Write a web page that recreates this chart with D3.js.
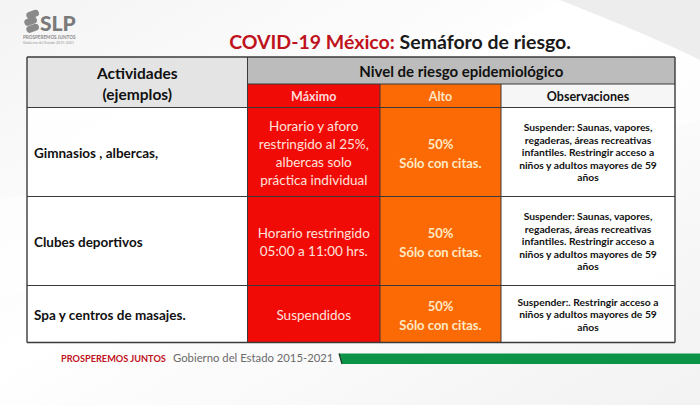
<!DOCTYPE html>
<html><head><meta charset="utf-8">
<script src="https://cdn.jsdelivr.net/npm/d3@7/dist/d3.min.js"></script>
<style>html,body{margin:0;padding:0;background:#fff;}svg{display:block;}</style>
</head><body>
<svg id="c" width="700" height="405"></svg>
<script>
// ---------- DATA ----------
const titleRed = "COVID-19 México:";
const titleDark = " Semáforo de riesgo.";
const headerActivities = ["Actividades", "(ejemplos)"];
const headerLevel = "Nivel de riesgo epidemiológico";
const levelColumns = ["Máximo", "Alto", "Observaciones"];
const activities = ["Gimnasios , albercas,", "Clubes deportivos", "Spa y centros de masajes."];
const maximo = [
  ["Horario y aforo", "restringido al 25%,", "albercas solo", "práctica individual"],
  ["Horario restringido", "05:00 a 11:00 hrs."],
  ["Suspendidos"]
];
const alto = [
  ["50%", "Sólo con citas."],
  ["50%", "Sólo con citas."],
  ["50%", "Sólo con citas."]
];
const observaciones = [
  ["Suspender: Saunas, vapores,", "regaderas, áreas recreativas", "infantiles. Restringir acceso a", "niños y adultos mayores de 59", "años"],
  ["Suspender: Saunas, vapores,", "regaderas, áreas recreativas", "infantiles. Restringir acceso a", "niños y adultos mayores de 59", "años"],
  ["Suspender:. Restringir acceso a", "niños y adultos mayores de 59", "años"]
];
const footerRed = "PROSPEREMOS JUNTOS";
const footerGray = "Gobierno del Estado 2015-2021";

// ---------- LAYOUT ----------
const svg = d3.select("#c");
const W = 700, H = 405;
const FONT = "Lato, 'Open Sans', sans-serif";

// background
const defs = svg.append("defs");
const bg = defs.append("linearGradient").attr("id","bg").attr("x1","0").attr("y1","0").attr("x2","1").attr("y2","1");
bg.append("stop").attr("offset","0").attr("stop-color","#f4f4f4");
bg.append("stop").attr("offset","0.45").attr("stop-color","#ffffff");
bg.append("stop").attr("offset","1").attr("stop-color","#f2f2f2");
svg.append("rect").attr("width",W).attr("height",H).attr("fill","url(#bg)");
svg.append("path").attr("d","M0,300 C120,250 300,230 700,120 L700,0 L560,0 C420,80 200,160 0,200 Z").attr("fill","#ffffff").attr("opacity",0.6);
svg.append("path").attr("d","M560,0 L700,0 L700,60 C660,40 610,20 560,0 Z").attr("fill","#e6e6e6").attr("opacity",0.7);

// logo
const logo = svg.append("g").attr("transform","translate(22,8)");
[[0,0],[-2,7],[0,14]].forEach((p,i)=>{
  logo.append("rect").attr("x",4+p[0]).attr("y",3+p[1]).attr("width",13).attr("height",7).attr("rx",3.5)
    .attr("fill","#8a8a8a").attr("transform",`rotate(-20 ${10+p[0]} ${6+p[1]})`);
});
logo.append("text").attr("x",18).attr("y",23).attr("font-family",FONT).attr("font-weight",900)
  .attr("font-size",21).attr("fill","#7a7a7a").text("SLP");
logo.append("text").attr("x",1).attr("y",31).attr("font-family",FONT).attr("font-weight",700)
  .attr("font-size",4.6).attr("fill","#8a8a8a").text("PROSPEREMOS JUNTOS");
logo.append("text").attr("x",1).attr("y",36).attr("font-family",FONT)
  .attr("font-size",3.6).attr("fill","#9a9a9a").text("Gobierno del Estado 2015-2021");

// title
const title = svg.append("text").attr("x",400).attr("y",49).attr("text-anchor","middle")
  .attr("font-family",FONT).attr("font-weight",700).attr("font-size",19.5);
title.append("tspan").attr("fill","#c0121c").text(titleRed);
title.append("tspan").attr("fill","#1a1a1a").text(titleDark);

// columns
const colEdges = [27, 247.5, 380, 501, 675];
const colX = d3.scaleOrdinal().domain(["act","max","alto","obs"]).range(colEdges.slice(0,4));
const colW = d3.scaleOrdinal().domain(["act","max","alto","obs"]).range(d3.range(4).map(i=>colEdges[i+1]-colEdges[i]));

const top0 = 57, headSplit = 84, headBottom = 107.5;
// row heights from line count
const lineCounts = activities.map((_,i)=>Math.max(maximo[i].length, alto[i].length, observaciones[i].length, 1));
const rowH = d3.scaleLinear().domain([3,5]).range([57,89]);
const rowTops = [];
let acc = headBottom;
lineCounts.forEach(n=>{ rowTops.push(acc); acc += rowH(n); });
const tableBottom = acc;
const yRow = i => rowTops[i];
const hRow = i => rowH(lineCounts[i]);

const RED = "#f10b06", ORANGE = "#fc6a05";
const g = svg.append("g");

// header cells
g.append("rect").attr("x",colX("act")).attr("y",top0).attr("width",colW("act")).attr("height",headBottom-top0).attr("fill","#e4e4e4");
g.append("rect").attr("x",colX("max")).attr("y",top0).attr("width",colEdges[4]-colEdges[1]).attr("height",headSplit-top0).attr("fill","#bcbcbc");
const subFill = {"Máximo":RED,"Alto":ORANGE,"Observaciones":"#f6f6f6"};
const subKey = {"Máximo":"max","Alto":"alto","Observaciones":"obs"};
g.selectAll("rect.sub").data(levelColumns).join("rect").attr("class","sub")
  .attr("x",d=>colX(subKey[d])).attr("y",headSplit).attr("width",d=>colW(subKey[d])).attr("height",headBottom-headSplit)
  .attr("fill",d=>subFill[d]);

// body cells
activities.forEach((a,i)=>{
  g.append("rect").attr("x",colX("act")).attr("y",yRow(i)).attr("width",colW("act")).attr("height",hRow(i)).attr("fill","#ffffff").attr("opacity",0.85);
  g.append("rect").attr("x",colX("max")).attr("y",yRow(i)).attr("width",colW("max")).attr("height",hRow(i)).attr("fill",RED);
  g.append("rect").attr("x",colX("alto")).attr("y",yRow(i)).attr("width",colW("alto")).attr("height",hRow(i)).attr("fill",ORANGE);
  g.append("rect").attr("x",colX("obs")).attr("y",yRow(i)).attr("width",colW("obs")).attr("height",hRow(i)).attr("fill","#ffffff").attr("opacity",0.9);
});

// grid lines
const LC = "#3a3a3a";
const hl = (y,x1,x2,w)=>g.append("line").attr("x1",x1).attr("x2",x2).attr("y1",y).attr("y2",y).attr("stroke",LC).attr("stroke-width",w||1);
const vl = (x,y1,y2,w)=>g.append("line").attr("x1",x).attr("x2",x).attr("y1",y1).attr("y2",y2).attr("stroke",LC).attr("stroke-width",w||1);
hl(top0, colEdges[0], colEdges[4], 1.6);
hl(headSplit, colEdges[1], colEdges[4], 1);
rowTops.forEach(y=>hl(y, colEdges[0], colEdges[4], 1));
hl(tableBottom, colEdges[0], colEdges[4], 1.6);
vl(colEdges[0], top0, tableBottom, 1.4);
vl(colEdges[4], top0, tableBottom, 1.4);
vl(colEdges[1], top0, tableBottom, 1);
vl(colEdges[2], headSplit, tableBottom, 1);
vl(colEdges[3], headSplit, tableBottom, 1);

// text helper
function lines(sel, arr, cx, cy, size, lh, opts){
  const t = sel.append("text").attr("font-family",FONT).attr("font-size",size)
    .attr("font-weight",opts.weight||400).attr("fill",opts.fill||"#111")
    .attr("text-anchor",opts.anchor||"middle").attr("dominant-baseline","central");
  const y0 = cy - (arr.length-1)*lh/2;
  arr.forEach((s,k)=>t.append("tspan").attr("x",cx).attr("y",y0+k*lh).text(s));
  return t;
}

// header text
lines(g, headerActivities, (colEdges[0]+colEdges[1])/2, 83.5, 15.5, 21, {weight:700, fill:"#111"});
lines(g, [headerLevel], (colEdges[1]+colEdges[4])/2, 70.5, 15, 0, {weight:700, fill:"#111"});
levelColumns.forEach(d=>{
  const k = subKey[d];
  lines(g, [d], colX(k)+colW(k)/2, 96, 12.5, 0, {weight:700, fill: d==="Observaciones" ? "#111" : (d==="Alto" ? "#ffe6c8" : "#ffd8d8")});
});

// body text
activities.forEach((a,i)=>{
  const cy = yRow(i)+hRow(i)/2;
  lines(g, [a], colEdges[0]+7, cy+1, 13.5, 0, {weight:700, anchor:"start", fill:"#111"});
  lines(g, maximo[i], colX("max")+colW("max")/2, cy+1, 13.5, 18, {weight:400, fill:"#ffe2dc"});
  lines(g, alto[i], colX("alto")+colW("alto")/2, cy+1, 13, 19, {weight:700, fill:"#ffe9c4"});
  lines(g, observaciones[i], colX("obs")+colW("obs")/2, cy, 10.3, 12.5, {weight:700, fill:"#111"});
});

// footer
svg.append("text").attr("x",61).attr("y",362).attr("font-family",FONT).attr("font-size",9.2)
  .attr("font-weight",700).attr("fill","#c0121c").text(footerRed);
svg.append("text").attr("x",173).attr("y",362).attr("font-family",FONT).attr("font-size",11.3)
  .attr("fill","#6a6a6a").text(footerGray);
svg.append("path").attr("d","M339,353.5 L700,353.5 L700,364 L342,364 Z").attr("fill","#0b9447");
svg.append("line").attr("x1",339).attr("y1",353.5).attr("x2",342).attr("y2",364).attr("stroke","#1e3a2a").attr("stroke-width",1.2);
</script>
</body></html>
